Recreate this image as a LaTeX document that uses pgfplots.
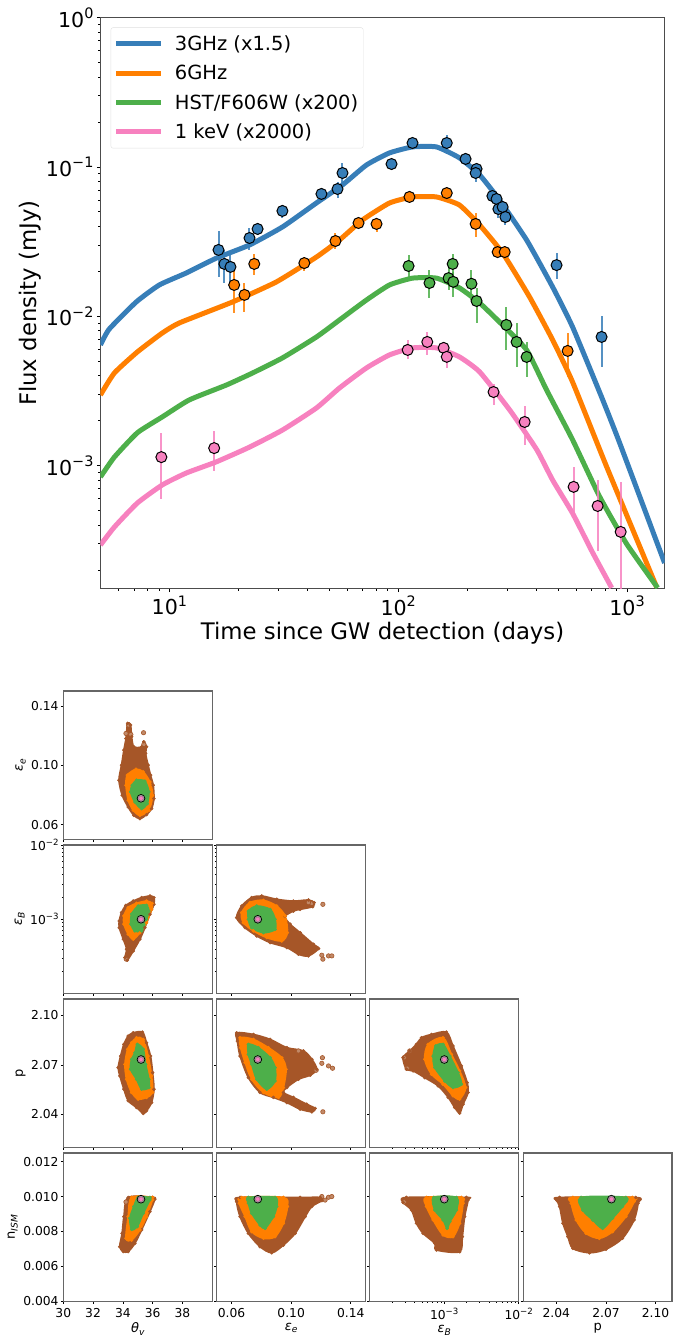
\documentclass[border=0pt]{standalone}
\usepackage{graphicx}
\usepackage{fontspec}
\setmainfont{DejaVu Sans}
\usepackage{pgfplots}
\usepackage{pgfplotstable}
\pgfplotsset{compat=1.18}

\definecolor{cbblue}{HTML}{377EB8}
\definecolor{cborange}{HTML}{FF7F00}
\definecolor{cbgreen}{HTML}{4DAF4A}
\definecolor{cbpink}{HTML}{F781BF}
\definecolor{cbbrown}{HTML}{A65628}

\newcommand{\tenp}[1]{10\raisebox{.42em}{\scalebox{.7}{#1}}}
\newcommand{\eps}[1]{{\itshape ε}\raisebox{-.22em}{\scalebox{.7}{\itshape #1}}}

% x y hi lo
\pgfplotstableread{
x y hi lo
16.4 0.0278 0.0372 0.0183
17.4 0.0224 0.0278 0.0167
18.5 0.0214 0.0257 0.01546
22.4 0.0334 0.0390 0.0278
24.3 0.0384 0.0421 0.0350
31.2 0.0507 0.0556 0.0455
46.2 0.0659 0.0711 0.0600
54.3 0.0711 0.0793 0.0619
57.1 0.0910 0.106 0.0780
93.5 0.1045 0.1096 0.0998
115.5 0.1445 0.1537 0.136
163 0.1445 0.1636 0.1298
197 0.113 0.120 0.106
220 0.0968 0.1045 0.0897
218 0.0910 0.1014 0.0793
258 0.0638 0.0679 0.0600
269 0.0610 0.0649 0.0573
274 0.0522 0.0565 0.0455
286 0.0539 0.0582 0.0499
294 0.0462 0.0515 0.0408
492 0.0220 0.0265 0.0178
774 0.00727 0.01005 0.00458
}\ptsblue
\pgfplotstableread{
x y hi lo
19.2 0.0162 0.0220 0.01052
21.3 0.0139 0.0167 0.0107
23.5 0.0224 0.0261 0.0189
38.9 0.0227 0.0249 0.0201
53.2 0.0319 0.0361 0.0282
67.1 0.0421 0.0441 0.0402
80.4 0.0415 0.0434 0.0367
112 0.0629 0.0659 0.0600
163 0.0668 0.0700 0.0638
218 0.0415 0.0491 0.0339
272 0.0269 0.0282 0.0257
292 0.0269 0.0282 0.0257
550 0.00586 0.00773 0.00392
}\ptsorange
\pgfplotstableread{
x y hi lo
111 0.0217 0.0257 0.0183
137 0.0167 0.0204 0.0133
166 0.0180 0.0210 0.0150
173 0.0224 0.0261 0.0189
174 0.0170 0.0198 0.01346
209 0.0165 0.0204 0.01285
220 0.01265 0.0155 0.00902
297 0.00875 0.01154 0.00595
329 0.00673 0.00902 0.00458
364 0.00534 0.00673 0.00392
}\ptsgreen
\pgfplotstableread{
x y hi lo
9.23 0.00114 0.00166 0.000599
15.7 0.00131 0.00171 0.000921
110 0.00595 0.00694 0.00518
134 0.00673 0.00785 0.00551
158 0.00614 0.00673 0.00551
163 0.00535 0.00595 0.00451
261 0.00311 0.00352 0.00255
357 0.00196 0.00251 0.00138
584 0.000721 0.00098 0.000483
744 0.000537 0.000802 0.000269
938 0.00036 0.000778 0.00015
}\ptspink

\pgfplotsset{
  model/.style={color=#1,line width=5pt,line join=round,no markers,smooth,tension=.3},
  obs/.style={only marks,mark=*,mark size=5.5pt,
    mark options={fill=#1,draw=black,line width=1pt},forget plot,
    error bars/.cd,y dir=both,y explicit,error mark=none,
    error bar style={color=#1,line width=2pt,opacity=.85}},
  cloud/.style={draw=#1,fill=#1,line width=1.6pt,line join=round,smooth cycle,tension=.5,
    mark=*,mark size=1.6pt,mark options={fill=#1,draw=#1,line width=.4pt}},
  stray/.style={only marks,mark=*,mark size=2.2pt,
    mark options={fill=cbbrown!70,draw=cbbrown,line width=.6pt}},
  ring/.style={only marks,mark=*,mark size=3.9pt,
    mark options={fill=gray!75,draw=black,line width=.7pt}},
  dot/.style={only marks,mark=*,mark size=2.2pt,
    mark options={fill=cbpink,draw=cbpink!70!black,line width=.3pt}},
  corner/.style={scale only axis,width=149pt,height=148.5pt,anchor=south west,
    axis line style={black!60,line width=1.3pt},
    tick align=outside,xtick pos=bottom,ytick pos=left,
    major tick length=2.5pt,minor tick length=1.3pt,
    every tick/.style={black,line width=.6pt},
    tick label style={font=\fontsize{12.3}{14}\selectfont},
    label style={font=\fontsize{13}{15}\selectfont},
    yticklabel style={inner sep=2pt},
    xticklabel style={inner sep=2pt,yshift=-2pt},
    scaled ticks=false,
    xticklabels={},yticklabels={},axis on top=false},
  colA/.style={xmin=30,xmax=40,xtick={30,32,34,36,38}},
  colB/.style={xmin=0.05,xmax=0.15,xtick={0.06,0.10,0.14}},
  colC/.style={xmin=1e-4,xmax=1e-2,xtick={1e-3,1e-2},
    minor xtick={2e-4,3e-4,4e-4,5e-4,6e-4,7e-4,8e-4,9e-4,2e-3,3e-3,4e-3,5e-3,6e-3,7e-3,8e-3,9e-3}},
  colD/.style={xmin=2.02,xmax=2.11,xtick={2.04,2.07,2.10}},
  rowA/.style={ymin=0.05,ymax=0.15,ytick={0.06,0.10,0.14}},
  rowB/.style={ymin=1e-4,ymax=1e-2,ytick={1e-3,1e-2},
    minor ytick={2e-4,3e-4,4e-4,5e-4,6e-4,7e-4,8e-4,9e-4,2e-3,3e-3,4e-3,5e-3,6e-3,7e-3,8e-3,9e-3}},
  rowC/.style={ymin=2.02,ymax=2.11,ytick={2.04,2.07,2.10}},
  rowD/.style={ymin=0.004,ymax=0.0125,ytick={0.004,0.006,0.008,0.010,0.012}},
}

\begin{document}
\begin{tikzpicture}
\path (0pt,0pt) rectangle (680pt,-1339pt);

% light curves
\begin{axis}[
  scale only axis,width=564.5pt,height=571.5pt,
  at={(100.5pt,-589pt)},anchor=south west,
  xmode=log,ymode=log,
  xmin=5,xmax=1460,ymin=1.5e-4,ymax=1,
  xtick={10,100,1000},xticklabels={\tenp{1},\tenp{2},\tenp{3}},
  ytick={1,0.1,0.01,0.001},yticklabels={\tenp{0},\tenp{−1},\tenp{−2},\tenp{−3}},
  minor xtick={6,7,8,9,20,30,40,50,60,70,80,90,200,300,400,500,600,700,800,900},
  minor ytick={2e-4,3e-4,4e-4,5e-4,6e-4,7e-4,8e-4,9e-4,2e-3,3e-3,4e-3,5e-3,6e-3,7e-3,8e-3,9e-3,
    0.02,0.03,0.04,0.05,0.06,0.07,0.08,0.09,0.2,0.3,0.4,0.5,0.6,0.7,0.8,0.9},
  tick align=outside,xtick pos=bottom,ytick pos=left,
  major tick length=3.5pt,minor tick length=2pt,
  every tick/.style={black,line width=.7pt},
  axis line style={black!70,line width=1.1pt},
  tick label style={font=\fontsize{20.6}{24}\selectfont},
  label style={font=\fontsize{22.8}{26}\selectfont},
  xlabel={Time since GW detection (days)},
  ylabel={Flux density (mJy)},
  ylabel shift=-2pt,
  legend style={at={(rel axis cs:0.0182,0.9825)},anchor=north west,
    draw=black!12,rounded corners=2pt,fill=white,
    font=\fontsize{19.5}{23}\selectfont,row sep=9.2pt,inner xsep=3pt,inner ysep=6pt},
  legend cell align=left,
  legend image code/.code={\draw[#1,line width=5pt] (0pt,0pt) -- (45pt,0pt);\path (54pt,0pt);},
]
\addplot[model=cbblue] coordinates {
  (5,0.00643)(5.46,0.0082)(7.17,0.01247)(9.04,0.0162)(11.87,0.0195)(16.05,0.0245)
  (22.4,0.0300)(31.2,0.0396)(43.9,0.0573)(57.1,0.0757)(72.7,0.103)(91.6,0.124)
  (115.5,0.136)(147,0.136)(185,0.115)(227,0.0883)(277,0.0600)(364,0.0324)
  (473,0.0157)(578,0.00848)(774,0.00288)(928,0.00142)(1459,0.000223)
};
\addlegendentry{3GHz (x1.5)}
\addplot[model=cborange] coordinates {
  (5,0.00297)(5.75,0.00417)(7.25,0.00577)(9.32,0.00773)(11.06,0.00902)(18.9,0.01247)
  (29.4,0.0170)(43.9,0.0249)(55.4,0.0324)(69.8,0.0441)(91.6,0.0573)(115.5,0.0629)
  (147,0.0629)(185,0.0556)(227,0.0408)(286,0.0265)(375,0.01346)(473,0.00694)
  (578,0.00363)(815,0.00098)(1346,0.000154)
};
\addlegendentry{6GHz}
\addplot[model=cbgreen] coordinates {
  (5,0.000839)(5.75,0.00114)(7.25,0.00166)(9.32,0.00212)(12.2,0.00275)(17.8,0.00347)
  (23.1,0.00417)(31.2,0.00526)(43.9,0.00726)(55.4,0.00944)(72.7,0.01285)(91.6,0.0162)
  (115.5,0.0180)(147,0.0180)(185,0.0155)(227,0.01227)(277,0.00916)(364,0.00595)
  (445,0.00321)(578,0.00149)(759,0.00062)(995,0.000300)(1361,0.000152)
};
\addlegendentry{HST/F606W (x200)}
\addplot[model=cbpink] coordinates {
  (5,0.000294)(5.75,0.000388)(7.25,0.000562)(9.32,0.000743)(11.87,0.000893)(16.05,0.00106)
  (22.4,0.00133)(31.2,0.00173)(43.9,0.00243)(55.4,0.00331)(72.7,0.00451)(91.6,0.00551)
  (115.5,0.00614)(147,0.00614)(185,0.00535)(227,0.00424)(307,0.00236)(403,0.00128)
  (473,0.00080)(578,0.000480)(707,0.000262)(857,0.000152)
};
\addlegendentry{1 keV (x2000)}

\addplot[obs=cbblue] table[x=x,y=y,y error plus expr=\thisrow{hi}-\thisrow{y},y error minus expr=\thisrow{y}-\thisrow{lo}] {\ptsblue};
\addplot[obs=cborange] table[x=x,y=y,y error plus expr=\thisrow{hi}-\thisrow{y},y error minus expr=\thisrow{y}-\thisrow{lo}] {\ptsorange};
\addplot[obs=cbgreen] table[x=x,y=y,y error plus expr=\thisrow{hi}-\thisrow{y},y error minus expr=\thisrow{y}-\thisrow{lo}] {\ptsgreen};
\addplot[obs=cbpink] table[x=x,y=y,y error plus expr=\thisrow{hi}-\thisrow{y},y error minus expr=\thisrow{y}-\thisrow{lo}] {\ptspink};
\end{axis}

% corner plot, row 1
\begin{axis}[corner,at={(63.3pt,-840pt)},colA,rowA,
  yticklabels={0.06,0.10,0.14},ylabel={\eps{e}}]
\addplot[stray] coordinates {(35.39,.1220)(34.21,.1215)(34.38,.1272)(34.54,.1208)(35.41,.1141)};
\addplot[cloud=cbbrown] coordinates {(34.32,.1283)(34.52,.1272)(34.59,.1193)(34.74,.1125)(35.26,.1125)(35.41,.1159)(35.59,.1125)(35.53,.1080)(35.70,.1001)(35.86,.0934)(36.04,.0866)(36.09,.0776)(35.93,.0708)(35.59,.0668)(35.15,.0641)(34.74,.0663)(34.36,.0719)(33.96,.0798)(33.74,.0900)(33.91,.1001)(34.07,.1103)(34.21,.1181)};
\addplot[cloud=cborange] coordinates {(34.88,.0974)(35.37,.0956)(35.82,.0888)(36.00,.0798)(35.75,.0697)(35.15,.0663)(34.70,.0697)(34.36,.0765)(34.21,.0866)(34.30,.0934)};
\addplot[cloud=cbgreen] coordinates {(34.92,.0900)(35.48,.0893)(35.75,.0821)(35.64,.0742)(35.26,.0708)(34.81,.0753)(34.52,.0821)(34.63,.0866)};
\addplot[ring] coordinates {(35.22,.0778)};
\addplot[dot] coordinates {(35.22,.0778)};
\end{axis}

% row 2
\begin{axis}[corner,at={(63.3pt,-994pt)},colA,ymode=log,rowB,
  yticklabels={\tenp{−3},\tenp{−2}},ylabel={\eps{B}}]
\addplot[stray] coordinates {(34.23,2.9e-4)};
\addplot[cloud=cbbrown] coordinates {(35.82,2.06e-3)(36.09,1.96e-3)(36.09,1.59e-3)(35.82,1.17e-3)(35.48,7.7e-4)(35.15,5.4e-4)(34.70,3.75e-4)(34.30,2.81e-4)(34.14,3.05e-4)(34.25,3.95e-4)(34.03,5.4e-4)(33.76,7.7e-4)(33.76,9.5e-4)(33.91,1.23e-3)(34.21,1.54e-3)(34.70,1.76e-3)(35.26,1.96e-3)};
\addplot[cloud=cborange] coordinates {(35.59,1.76e-3)(35.97,1.64e-3)(35.93,1.36e-3)(35.59,9.0e-4)(35.15,6.6e-4)(34.70,5.4e-4)(34.36,6.3e-4)(34.07,8.6e-4)(34.07,1.11e-3)(34.36,1.44e-3)(34.92,1.64e-3)};
\addplot[cloud=cbgreen] coordinates {(35.03,1.51e-3)(35.59,1.54e-3)(35.75,1.29e-3)(35.59,1.0e-3)(35.26,6.97e-4)(34.81,6.97e-4)(34.54,8.6e-4)(34.59,1.17e-3)};
\addplot[ring] coordinates {(35.22,1e-3)};
\addplot[dot] coordinates {(35.22,1e-3)};
\end{axis}

\begin{axis}[corner,at={(216.8pt,-994pt)},colB,ymode=log,rowB]
\addplot[stray] coordinates {(.1213,1.59e-3)(.1139,1.64e-3)(.1206,3.28e-4)(.1251,3.21e-4)(.1213,2.9e-4)(.1273,3.21e-4)(.1116,1.68e-3)};
\addplot[cloud=cbbrown] coordinates {(.0634,1.05e-3)(.0668,1.51e-3)(.0735,1.96e-3)(.0803,2.06e-3)(.0903,1.86e-3)(.1015,1.76e-3)(.1116,1.82e-3)(.1154,1.68e-3)(.1145,1.48e-3)(.1060,1.36e-3)(.1015,1.29e-3)(.0959,1.09e-3)(.0993,8.6e-4)(.1060,6.6e-4)(.1150,4.6e-4)(.1184,4.03e-4)(.1116,3.21e-4)(.1049,3.38e-4)(.0971,4.16e-4)(.0859,4.85e-4)(.0769,5.97e-4)(.0691,7.7e-4)};
\addplot[cloud=cborange] coordinates {(.0668,1.23e-3)(.0724,1.68e-3)(.0814,1.80e-3)(.0903,1.51e-3)(.0959,1.11e-3)(.0975,6.6e-4)(.0937,5.1e-4)(.0836,5.67e-4)(.0747,6.97e-4)(.0679,9.0e-4)};
\addplot[cloud=cbgreen] coordinates {(.0713,1.29e-3)(.0769,1.51e-3)(.0859,1.36e-3)(.0892,1.0e-3)(.0892,7.3e-4)(.0814,6.6e-4)(.0735,7.7e-4)(.0713,1.0e-3)};
\addplot[ring] coordinates {(.0776,1e-3)};
\addplot[dot] coordinates {(.0776,1e-3)};
\end{axis}

% row 3
\begin{axis}[corner,at={(63.3pt,-1148pt)},colA,rowC,
  yticklabels={2.04,2.07,2.10},ylabel={p}]
\addplot[cloud=cbbrown] coordinates {(34.70,2.0895)(35.32,2.0899)(35.59,2.0835)(35.86,2.0754)(36.00,2.0654)(36.09,2.0553)(35.93,2.0472)(35.59,2.0422)(35.37,2.0406)(34.92,2.0442)(34.36,2.0483)(34.07,2.0553)(33.80,2.0634)(33.69,2.0684)(33.85,2.0754)(34.07,2.0825)(34.36,2.0875)};
\addplot[cloud=cborange] coordinates {(34.92,2.0865)(35.37,2.0855)(35.70,2.0754)(35.93,2.0634)(36.00,2.0533)(35.59,2.0503)(35.03,2.0493)(34.59,2.0533)(34.25,2.0613)(34.14,2.0704)(34.32,2.0795)(34.59,2.0835)};
\addplot[cloud=cbgreen] coordinates {(34.97,2.0825)(35.37,2.0795)(35.53,2.0704)(35.75,2.0613)(35.75,2.0563)(35.26,2.0553)(34.92,2.0613)(34.52,2.0674)(34.59,2.0734)(34.81,2.0774)};
\addplot[ring] coordinates {(35.22,2.0733)};
\addplot[dot] coordinates {(35.22,2.0733)};
\end{axis}

\begin{axis}[corner,at={(216.8pt,-1148pt)},colB,rowC]
\addplot[stray] coordinates {(.1210,2.0744)(.1206,2.0710)(.1251,2.0694)(.1278,2.0680)(.1168,2.0668)(.1213,2.0416)(.1049,2.0785)};
\addplot[cloud=cbbrown] coordinates {(.0634,2.0895)(.0747,2.0885)(.0859,2.0855)(.0971,2.0805)(.1083,2.0785)(.1139,2.0734)(.1172,2.0674)(.1128,2.0638)(.1049,2.0613)(.0971,2.0563)(.0948,2.0533)(.1015,2.0503)(.1105,2.0462)(.1161,2.0436)(.1139,2.0416)(.1060,2.0432)(.0971,2.0472)(.0881,2.0503)(.0791,2.0533)(.0713,2.0623)(.0657,2.0754)(.0639,2.0845)};
\addplot[cloud=cborange] coordinates {(.0657,2.0865)(.0747,2.0855)(.0847,2.0805)(.0937,2.0744)(.0966,2.0674)(.0948,2.0563)(.0915,2.0503)(.0814,2.0533)(.0735,2.0613)(.0691,2.0714)(.0661,2.0805)};
\addplot[cloud=cbgreen] coordinates {(.0713,2.0825)(.0780,2.0805)(.0859,2.0744)(.0892,2.0684)(.0892,2.0603)(.0836,2.0553)(.0769,2.0613)(.0735,2.0704)(.0713,2.0764)};
\addplot[ring] coordinates {(.0776,2.0733)};
\addplot[dot] coordinates {(.0776,2.0733)};
\end{axis}

\begin{axis}[corner,at={(370pt,-1148pt)},xmode=log,colC,rowC]
\addplot[stray] coordinates {(2.89e-4,2.0744)(3.17e-4,2.0680)(3.44e-4,2.0785)};
\addplot[cloud=cbbrown] coordinates {(4.94e-4,2.0865)(6.73e-4,2.0885)(1.07e-3,2.0899)(1.31e-3,2.0815)(1.70e-3,2.0694)(2.03e-3,2.0593)(2.09e-3,2.0533)(1.79e-3,2.0462)(1.61e-3,2.0408)(1.38e-3,2.0442)(1.13e-3,2.0503)(8.27e-4,2.0573)(5.47e-4,2.0623)(3.82e-4,2.0664)(3.1e-4,2.0674)(2.8e-4,2.0744)(3.44e-4,2.0785)(4.23e-4,2.0825)};
\addplot[cloud=cborange] coordinates {(6.07e-4,2.0825)(9.64e-4,2.0865)(1.25e-3,2.0764)(1.61e-3,2.0664)(1.94e-3,2.0563)(1.61e-3,2.0493)(1.31e-3,2.0513)(9.64e-4,2.0583)(6.73e-4,2.0644)(5.47e-4,2.0734)};
\addplot[cloud=cbgreen] coordinates {(7.69e-4,2.0815)(9.64e-4,2.0825)(1.19e-3,2.0754)(1.53e-3,2.0654)(1.70e-3,2.0583)(1.31e-3,2.0563)(1.016e-3,2.0603)(7.46e-4,2.0684)(7.08e-4,2.0754)};
\addplot[ring] coordinates {(1e-3,2.0733)};
\addplot[dot] coordinates {(1e-3,2.0733)};
\end{axis}

% row 4
\begin{axis}[corner,at={(63.3pt,-1302pt)},colA,rowD,
  yticklabels={0.004,0.006,0.008,0.010,0.012},
  xticklabels={30,32,34,36,38},
  xlabel={{\itshape θ}\raisebox{-.22em}{\scalebox{.7}{\itshape v}}},
  ylabel={n\raisebox{-.22em}{\scalebox{.7}{\itshape ISM}}}]
\addplot[stray] coordinates {(34.21,.00969)};
\addplot[cloud=cbbrown] coordinates {(34.36,.00995)(36.00,.00995)(36.15,.00985)(35.82,.00914)(35.26,.00809)(34.81,.00732)(34.36,.00685)(34.03,.00685)(33.79,.00713)(33.95,.00789)(34.07,.00885)};
\addplot[cloud=cborange] coordinates {(34.59,.00995)(36.00,.00995)(36.00,.00981)(35.59,.00885)(35.15,.00809)(34.59,.00751)(34.21,.00761)(34.36,.00885)};
\addplot[cloud=cbgreen] coordinates {(35.03,.00995)(35.82,.00995)(35.82,.00981)(35.37,.00904)(34.97,.00828)(34.59,.00812)(34.47,.00876)(34.74,.00943)};
\addplot[ring] coordinates {(35.22,.00985)};
\addplot[dot] coordinates {(35.22,.00985)};
\end{axis}

\begin{axis}[corner,at={(216.8pt,-1302pt)},colB,rowD,
  xticklabels={0.06,0.10,0.14},xlabel={\eps{e}}]
\addplot[stray] coordinates {(.1206,.0100)(.1251,.00996)(.1273,.0100)(.1228,.00980)};
\addplot[cloud=cbbrown] coordinates {(.0657,.00995)(.1060,.00995)(.1195,.00995)(.1206,.00977)(.1139,.00943)(.1094,.00885)(.1027,.00789)(.0948,.00722)(.0870,.00678)(.0791,.00713)(.0713,.00789)(.0657,.00885)(.0634,.00971)};
\addplot[cloud=cborange] coordinates {(.0668,.00995)(.0948,.00995)(.0975,.00943)(.0948,.00847)(.0892,.00770)(.0814,.00761)(.0735,.00799)(.0691,.00885)(.0652,.00962)};
\addplot[cloud=cbgreen] coordinates {(.0713,.00995)(.0892,.00995)(.0903,.00943)(.0881,.00885)(.0825,.00818)(.0791,.00837)(.0735,.00904)(.0713,.00962)};
\addplot[ring] coordinates {(.0776,.00985)};
\addplot[dot] coordinates {(.0776,.00985)};
\end{axis}

\begin{axis}[corner,at={(370pt,-1302pt)},xmode=log,colC,rowD,
  xticklabels={\tenp{−3},\tenp{−2}},xlabel={\eps{B}}]
\addplot[stray] coordinates {(2.89e-4,.00969)};
\addplot[cloud=cbbrown] coordinates {(3.1e-4,.00995)(1.98e-3,.00995)(2.09e-3,.00981)(1.88e-3,.00885)(1.75e-3,.00770)(1.61e-3,.00684)(7.85e-4,.00694)(7.46e-4,.00732)(5.2e-4,.00789)(4.23e-4,.00847)(3.62e-4,.00923)(2.8e-4,.00967)};
\addplot[cloud=cborange] coordinates {(5.76e-4,.00995)(1.70e-3,.00995)(1.79e-3,.00962)(1.61e-3,.00847)(1.31e-3,.00770)(9.64e-4,.00780)(7.08e-4,.00866)(5.76e-4,.00943)};
\addplot[cloud=cbgreen] coordinates {(7.23e-4,.00995)(1.46e-3,.00995)(1.46e-3,.00923)(1.19e-3,.00856)(1.09e-3,.00818)(9.64e-4,.00866)(7.46e-4,.00923)};
\addplot[ring] coordinates {(1e-3,.00985)};
\addplot[dot] coordinates {(1e-3,.00985)};
\end{axis}

\begin{axis}[corner,at={(523.5pt,-1302pt)},colD,rowD,
  xticklabels={2.04,2.07,2.10},xlabel={p}]
\addplot[cloud=cbbrown] coordinates {(2.0420,.00995)(2.0880,.00995)(2.0894,.00962)(2.0870,.00866)(2.0800,.00761)(2.0700,.00698)(2.0600,.00678)(2.0500,.00703)(2.0470,.00770)(2.0440,.00847)(2.0420,.00943)(2.0404,.00977)};
\addplot[cloud=cborange] coordinates {(2.0500,.00995)(2.0860,.00995)(2.0870,.00971)(2.0820,.00885)(2.0740,.00799)(2.0660,.00761)(2.0580,.00789)(2.0520,.00866)(2.0490,.00962)};
\addplot[cloud=cbgreen] coordinates {(2.0550,.00995)(2.0820,.00995)(2.0800,.00943)(2.0740,.00876)(2.0680,.00818)(2.0620,.00866)(2.0560,.00923)};
\addplot[ring] coordinates {(2.0733,.00985)};
\addplot[dot] coordinates {(2.0733,.00985)};
\end{axis}
\end{tikzpicture}
\end{document}
